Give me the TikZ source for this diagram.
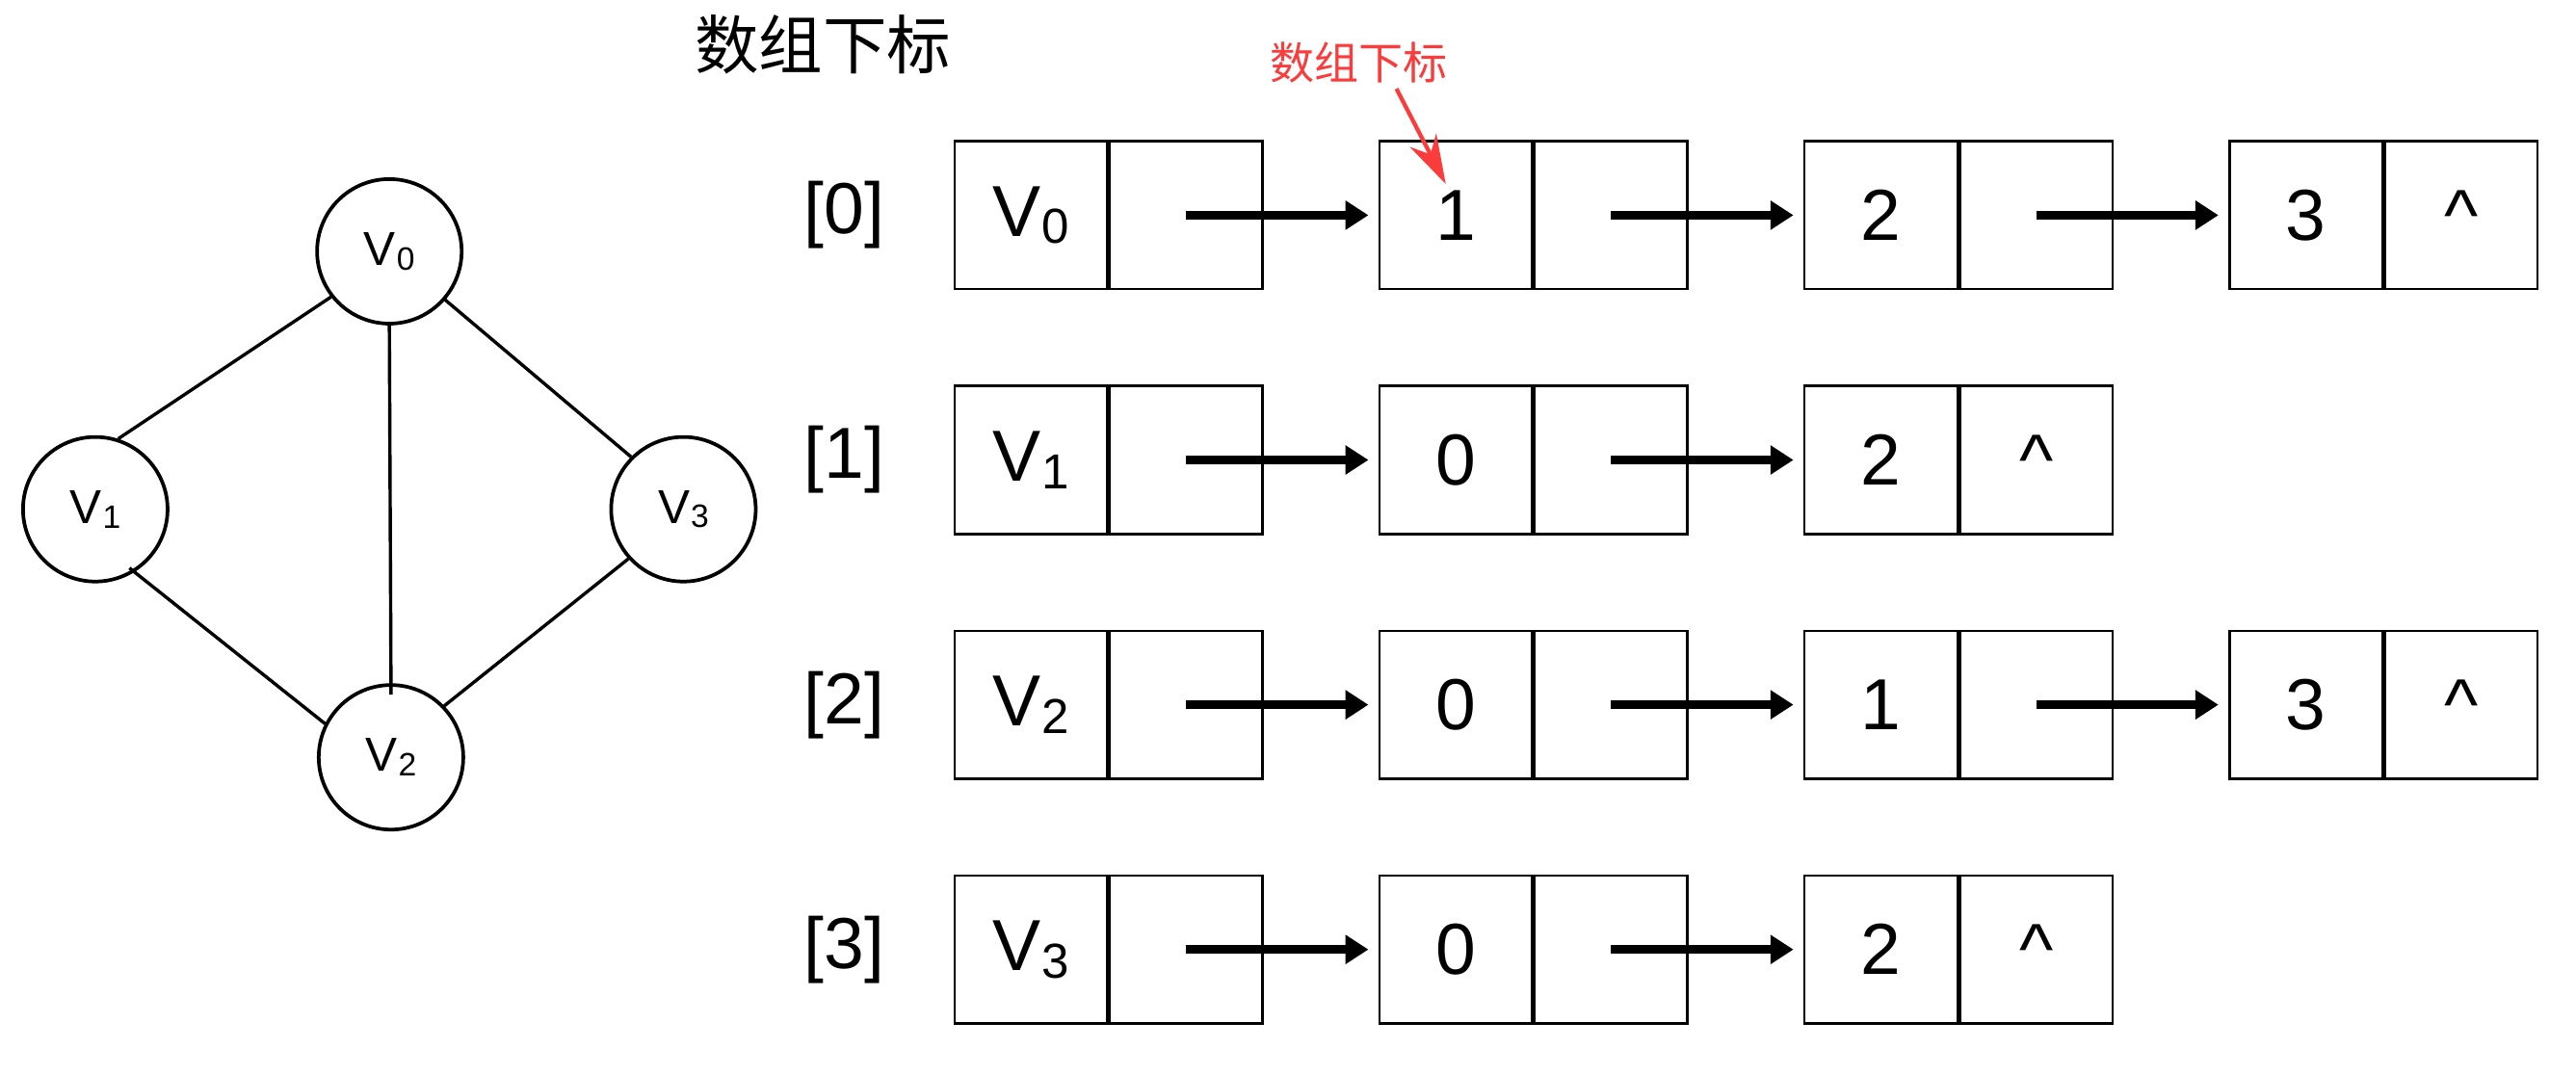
\documentclass[tikz,border=0pt]{standalone}
\usepackage{fontspec}
\setmainfont{Liberation Sans}
\newfontfamily\cjk{Noto Sans CJK SC}
\usetikzlibrary{arrows.meta}
\definecolor{hint}{RGB}{250,60,60}
\newcommand{\vsb}[1]{V\kern0.02em\raisebox{-0.1em}{\scalebox{0.68}{#1}}}
\tikzset{
	vex/.style={circle,draw,line width=2.2pt,minimum size=88pt,inner sep=0pt,font=\fontsize{29}{29}\selectfont},
	edge/.style={line width=2pt},
	cell/.style={draw,line width=1.5pt,minimum width=93pt,minimum height=90pt,inner sep=0pt,font=\fontsize{44}{44}\selectfont},
	idx/.style={font=\fontsize{44}{44}\selectfont},
	nxt/.style={line width=5pt,-{Triangle[length=14pt,width=17pt]},shorten >=6pt},
}
\begin{document}
\begin{tikzpicture}[x=1pt,y=-1pt]
		\useasboundingbox (0,0) rectangle (1568,654.4);
		% graph
		\node[vex] (v0) at (237,153) {\vsb{0}};
		\node[vex] (v1) at (58,310) {\vsb{1}};
		\node[vex] (v2) at (238,461) {\vsb{2}};
		\node[vex] (v3) at (416,310) {\vsb{3}};
		\draw[edge] (v0.218)--(v1.72);
		\draw[edge,shorten >=-7pt] (v0.south)--(v2.north);
		\draw[edge] (v0.319)--(v3.135);
		\draw[edge,shorten <=-4pt] (v1.302)--(v2.153);
		\draw[edge] (v3.222)--(v2.44);
		% adjacency list
		\node[font=\cjk\fontsize{39}{39}\selectfont] (title) at (501,27) {数组下标};
		\foreach \r in {0,...,3}{
			\node[idx] (i\r) at (514,{131+149*\r}) {[\r]};
			\node[cell] (d\r0) at (627.5,{131+149*\r}) {\vsb{\r}};
			\node[cell,anchor=west] (p\r0) at (d\r0.east) {};
		}
		\foreach \r/\k/\v/\last in {0/1/1/0,0/2/2/0,0/3/3/1,1/1/0/0,1/2/2/1,2/1/0/0,2/2/1/0,2/3/3/1,3/1/0/0,3/2/2/1}{
			\node[cell] (d\r\k) at ({627.5+258.7*\k},{131+149*\r}) {\v};
			\node[cell,anchor=west] (p\r\k) at (d\r\k.east) {\ifnum\last=1 \textasciicircum\fi};
			\pgfmathtruncatemacro\j{\k-1}
			\draw[nxt] (p\r\j.center)--(d\r\k.west);
		}
		% hint
		\node[text=hint,font=\cjk\fontsize{27}{27}\selectfont] (hint) at (827,38) {数组下标};
		\coordinate (mark) at (880,112);
		\draw[hint,line width=2.5pt,-{Stealth[length=30pt,width=18pt]}] ([xshift=23pt]hint.south)--(mark);
	    \end{tikzpicture}
\end{document}
